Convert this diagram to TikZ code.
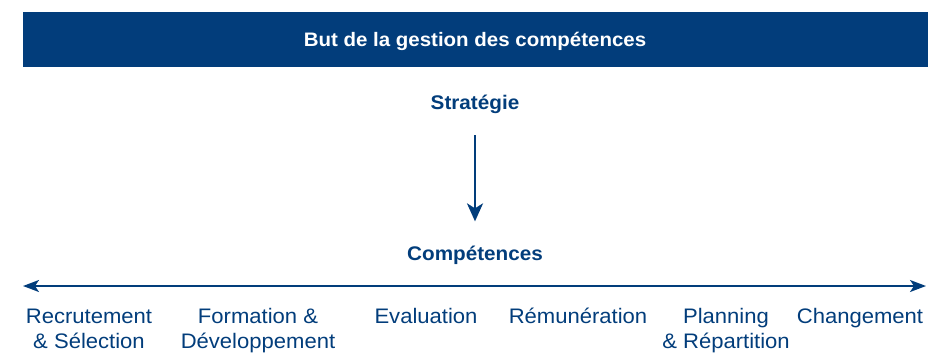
\documentclass[tikz,border=0pt]{standalone}
\usepackage{fontspec}
\setmainfont{Liberation Sans}[FakeStretch=1.05]
\usetikzlibrary{arrows.meta}
\definecolor{navy}{RGB}{2,61,123}
\tikzset{
  banner/.style={fill=navy, draw=none},
  titletext/.style={text=white, font=\bfseries\fontsize{19.5}{22}\selectfont, inner sep=0pt, anchor=base},
  headtext/.style={text=navy, font=\bfseries\fontsize{19.7}{22}\selectfont, inner sep=0pt, anchor=base},
  label/.style={text=navy, font=\fontsize{21}{25}\selectfont, align=center, inner sep=0pt, anchor=base},
  vline/.style={draw=navy, line width=2.2pt, -{Stealth[length=18pt,width=16pt,inset=5pt]}},
  hline/.style={draw=navy, line width=2pt, {Stealth[length=16pt,width=12pt,inset=4pt]}-{Stealth[length=16pt,width=12pt,inset=4pt]}}
}
\begin{document}
\begin{tikzpicture}[x=1pt,y=-1pt]
\useasboundingbox (0,0) rectangle (928,354);
\fill[banner] (23,12) rectangle (928,67);
\node[titletext] (title) at (475,46) {But de la gestion des compétences};
\node[headtext] (strat) at (475,109) {Stratégie};
\node[headtext] (comp) at (475,260) {Compétences};
\draw[vline] ([yshift=-22pt]strat.south) -- ([yshift=24pt]comp.north);
\coordinate (L) at (23,286);
\coordinate (R) at (926,286);
\draw[hline] (L) -- (R);
\node[label] (rec) at (89,348) {Recrutement\\\& Sélection};
\node[label] (form) at (258,348) {Formation \&\\Développement};
\node[label] (eval) at (426,323) {Evaluation};
\node[label] (rem) at (578,323) {Rémunération};
\node[label] (plan) at (726,348) {Planning\\\& Répartition};
\node[label] (chg) at (860,323) {Changement};
\end{tikzpicture}
\end{document}
